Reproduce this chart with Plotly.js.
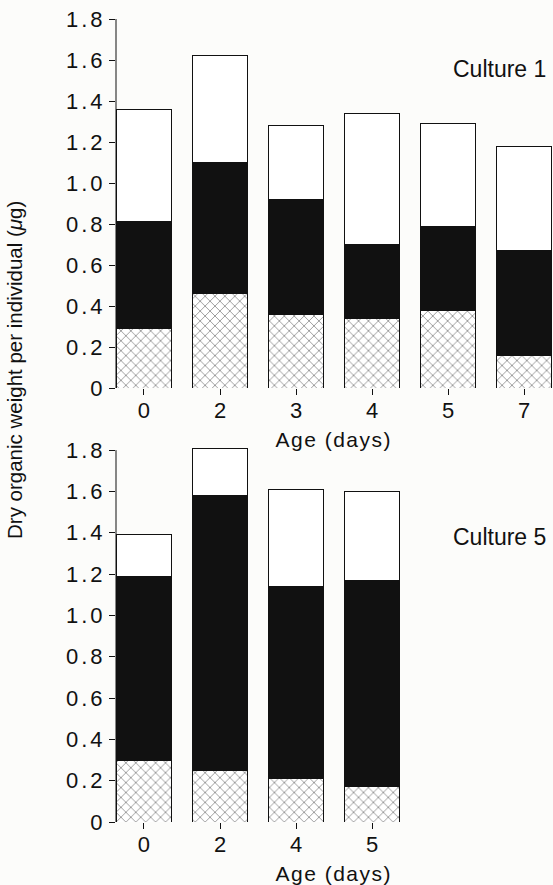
<!DOCTYPE html>
<html>
<head>
<meta charset="utf-8">
<script src="https://cdn.plot.ly/plotly-3.0.1.min.js"></script>
<style>
html,body{margin:0;padding:0;background:#fcfcfa;}
#chart{width:553px;height:885px;}
</style>
</head>
<body>
<div id="chart"></div>
<script>
// Culture 1
var c1Ages = ["0", "2", "3", "4", "5", "7"];
var c1Hatched = [0.29, 0.46, 0.36, 0.34, 0.38, 0.16];
var c1Black = [0.52, 0.64, 0.56, 0.36, 0.41, 0.51];
var c1White = [0.55, 0.52, 0.36, 0.64, 0.50, 0.51];

// Culture 5
var c5Ages = ["0", "2", "4", "5"];
var c5Hatched = [0.30, 0.25, 0.21, 0.17];
var c5Black = [0.89, 1.33, 0.93, 1.00];
var c5White = [0.20, 0.23, 0.47, 0.43];

var yTickVals = [0, 0.2, 0.4, 0.6, 0.8, 1.0, 1.2, 1.4, 1.6, 1.8];
var yTickText = ["0", "0.2", "0.4", "0.6", "0.8", "1.0", "1.2", "1.4", "1.6", "1.8"];

var FONT = '"Liberation Sans", Arial, Helvetica, sans-serif';
var BAR_W = 0.72;

// pixel geometry helpers (paper fractions)
var PLOT_L = 116, PLOT_W = 437, PLOT_T = 19, PLOT_H = 803, PLOT_B = 822;
function py(p) { return (PLOT_B - p) / PLOT_H; }
function px(p) { return (p - PLOT_L) / PLOT_W; }

function segs(x, hatched, black, white, xa, ya) {
  var line = {color: '#111', width: 1};
  return [
    {type: 'bar', x: x, y: hatched, xaxis: xa, yaxis: ya, width: BAR_W,
     marker: {color: '#ffffff', line: line,
              pattern: {shape: 'x', size: 7, solidity: 0.24, fgcolor: '#2a2a2a', bgcolor: '#ffffff', fillmode: 'overlay'}},
     hoverinfo: 'skip', showlegend: false},
    {type: 'bar', x: x, y: black, xaxis: xa, yaxis: ya, width: BAR_W,
     marker: {color: '#111111', line: line}, hoverinfo: 'skip', showlegend: false},
    {type: 'bar', x: x, y: white, xaxis: xa, yaxis: ya, width: BAR_W,
     marker: {color: '#ffffff', line: line}, hoverinfo: 'skip', showlegend: false}
  ];
}

var data = [].concat(
  segs(c1Ages, c1Hatched, c1Black, c1White, 'x', 'y'),
  segs(c5Ages, c5Hatched, c5Black, c5White, 'x2', 'y2')
);

function xaxisDef(anchor) {
  return {
    anchor: anchor, type: 'category', range: [-0.368, 5.38],
    showline: false, zeroline: false, showgrid: false,
    ticks: 'outside', ticklen: 6, tickwidth: 1, tickcolor: '#111',
    ticklabelstandoff: -3,
    tickfont: {family: FONT, size: 22, color: '#111'},
    fixedrange: true
  };
}
function yaxisDef(anchor, domain, top) {
  return {
    anchor: anchor, domain: domain, range: [0, top],
    tickvals: yTickVals, ticktext: yTickText,
    showline: false,
    zeroline: false, showgrid: false,
    ticks: 'outside', ticklen: 6, tickwidth: 1, tickcolor: '#111',
    ticklabelstandoff: -1,
    tickfont: {family: FONT, size: 22, color: '#111'},
    fixedrange: true
  };
}

// bottom panel: 206.5 px per unit, zero at 822, 1.8 at 450; range a bit above 1.8 so the tallest bar is not cut
var layout = {
  width: 553, height: 885,
  margin: {l: PLOT_L, r: 0, t: PLOT_T, b: 885 - PLOT_B},
  paper_bgcolor: '#fcfcfa', plot_bgcolor: 'rgba(0,0,0,0)',
  barmode: 'stack',
  showlegend: false,
  xaxis: xaxisDef('y'),
  yaxis: yaxisDef('x', [py(388), 1], 1.8),
  xaxis2: xaxisDef('y2'),
  yaxis2: yaxisDef('x2', [0, py(446)], 1.82),
  shapes: [
    {type: 'line', xref: 'x domain', yref: 'y', x0: 0, x1: 0, y0: 0, y1: 1.8,
     line: {color: '#111', width: 1}},
    {type: 'line', xref: 'x2 domain', yref: 'y2', x0: 0, x1: 0, y0: 0, y1: 1.8,
     line: {color: '#111', width: 1}}
  ],
  annotations: [
    {text: 'Age (days)', xref: 'paper', yref: 'paper', x: px(334), y: py(439),
     xanchor: 'center', yanchor: 'middle', showarrow: false,
     font: {family: FONT, size: 21, color: '#111'}},
    {text: 'Age (days)', xref: 'paper', yref: 'paper', x: px(334), y: py(873),
     xanchor: 'center', yanchor: 'middle', showarrow: false,
     font: {family: FONT, size: 21, color: '#111'}},
    {text: 'Culture 1', xref: 'paper', yref: 'paper', x: px(548), y: py(69),
     xanchor: 'right', yanchor: 'middle', showarrow: false,
     font: {family: FONT, size: 23, color: '#111'}},
    {text: 'Culture 5', xref: 'paper', yref: 'paper', x: px(548), y: py(537),
     xanchor: 'right', yanchor: 'middle', showarrow: false,
     font: {family: FONT, size: 23, color: '#111'}},
    {text: 'Dry organic weight per individual (<i>\u03bc</i>g)', xref: 'paper', yref: 'paper',
     x: px(14), xanchor: 'center', y: py(370), yanchor: 'middle',
     textangle: -90, showarrow: false,
     font: {family: FONT, size: 20.5, color: '#111'}}
  ]
};

Plotly.newPlot('chart', data, layout, {staticPlot: true, displayModeBar: false}).then(function (gd) {
  gd.querySelectorAll('.ytick text, .y2tick text').forEach(function (t) {
    t.style.letterSpacing = '3px';
  });
  gd.querySelectorAll('.annotation-text').forEach(function (t) {
    if (t.textContent === 'Age (days)') t.style.letterSpacing = '1.5px';
  });
});
</script>
</body>
</html>
